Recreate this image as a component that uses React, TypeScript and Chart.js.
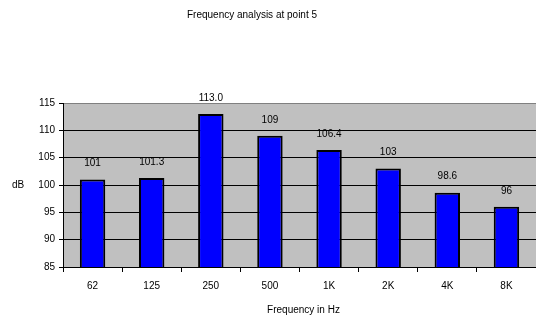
import React, { useEffect, useRef } from "react";
import { Chart, registerables } from "chart.js";

Chart.register(...registerables);

const categories = ["62", "125", "250", "500", "1K", "2K", "4K", "8K"];
const values = [101, 101.3, 113.0, 109, 106.4, 103, 98.6, 96];
const valueLabels = ["101", "101.3", "113.0", "109", "106.4", "103", "98.6", "96"];
const yTicks = [85, 90, 95, 100, 105, 110, 115];
const chartTitle = "Frequency analysis at point 5";
const xTitle = "Frequency in Hz";
const yTitle = "dB";

const FONT = "'Liberation Sans', Arial, sans-serif";

const decor = {
  id: "decor",
  beforeDraw(chart: any) {
    const { ctx, chartArea } = chart;
    ctx.save();
    ctx.fillStyle = "#C0C0C0";
    ctx.fillRect(chartArea.left, chartArea.top, chartArea.right - chartArea.left, chartArea.bottom - chartArea.top);
    ctx.restore();
  },
  afterDraw(chart: any) {
    const { ctx, chartArea } = chart;
    ctx.save();
    ctx.fillStyle = "#000";
    ctx.font = `10px ${FONT}`;
    ctx.textAlign = "center";
    ctx.textBaseline = "middle";
    ctx.fillText(chartTitle, 252, 15);
    ctx.fillText(xTitle, (chartArea.left + chartArea.right) / 2 + 4, 310);
    ctx.fillText(yTitle, 18, 185);
    const meta = chart.getDatasetMeta(0);
    meta.data.forEach((bar: any, i: number) => {
      ctx.fillText(valueLabels[i], bar.x, bar.y - 16);
    });
    ctx.restore();
  },
};

export default function App() {
  const ref = useRef<HTMLCanvasElement>(null);
  useEffect(() => {
    const chart = new Chart(ref.current!, {
      type: "bar",
      data: {
        labels: categories,
        datasets: [
          {
            data: values,
            backgroundColor: "#0000FF",
            borderColor: "#000000",
            borderWidth: 2,
            borderSkipped: false,
            categoryPercentage: 1,
            barPercentage: 0.43,
          },
        ],
      },
      options: {
        animation: false,
        responsive: false,
        maintainAspectRatio: false,
        layout: { padding: { top: 103, right: 0, left: 0, bottom: 0 } },
        plugins: {
          legend: { display: false },
          title: { display: false },
          tooltip: { enabled: false },
        },
        scales: {
          x: {
            afterFit: (s: any) => {
              s.height = 51;
            },
            grid: {
              offset: true,
              drawOnChartArea: false,
              drawTicks: true,
              tickLength: 5,
              color: "#000",
            },
            border: { display: true, color: "#000", width: 1 },
            ticks: {
              color: "#000",
              font: { family: FONT, size: 10 },
              padding: 8,
              maxRotation: 0,
            },
          },
          y: {
            min: 85,
            max: 115,
            afterFit: (s: any) => {
              s.width = 63;
            },
            afterBuildTicks: (s: any) => {
              s.ticks = yTicks.map((v) => ({ value: v }));
            },
            grid: {
              color: (c: any) => (c.tick && c.tick.value === 115 ? "#808080" : "#000"),
              tickColor: "#000",
              tickLength: 4,
              drawTicks: true,
            },
            border: { display: true, color: "#000", width: 1 },
            ticks: {
              color: "#000",
              font: { family: FONT, size: 10 },
              padding: 4,
            },
          },
        },
      },
      plugins: [decor],
    });
    return () => chart.destroy();
  }, []);
  return (
    <div style={{ position: "fixed", left: 0, top: 0, width: 536, height: 318, background: "#fff" }}>
      <canvas ref={ref} width={536} height={318} style={{ width: 536, height: 318 }} />
    </div>
  );
}
